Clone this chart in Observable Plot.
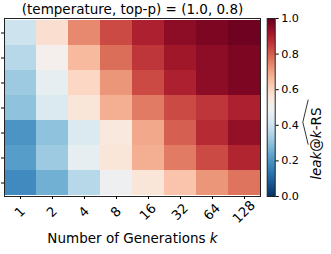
<!DOCTYPE html>
<html><head><meta charset="utf-8">
<script src="https://cdn.jsdelivr.net/npm/d3@7"></script>
<script src="https://cdn.jsdelivr.net/npm/@observablehq/plot@0.6"></script>
<style>
html,body{margin:0;padding:0;background:#fff;}
#chart{position:relative;width:331px;height:254px;font-family:"DejaVu Sans";overflow:hidden;}
#chart svg{position:absolute;top:0;overflow:visible;}
</style></head><body><div id="chart"></div>
<script>
const title = "(temperature, top-p) = (1.0, 0.8)";
const xLabelMain = "Number of Generations ";
const xLabelVar = "k";
const cbLabel = ["leak", "@", "k", "-RS"];
const ks = ["1", "2", "4", "8", "16", "32", "64", "128"];
const rowIds = ["r1", "r2", "r3", "r4", "r5", "r6", "r7"];
const row1 = [0.40, 0.58, 0.74, 0.83, 0.90, 0.95, 0.97, 0.99];
const row2 = [0.36, 0.51, 0.66, 0.78, 0.86, 0.92, 0.95, 0.97];
const row3 = [0.32, 0.46, 0.60, 0.72, 0.83, 0.90, 0.95, 0.97];
const row4 = [0.30, 0.43, 0.56, 0.68, 0.76, 0.83, 0.86, 0.90];
const row5 = [0.20, 0.30, 0.43, 0.55, 0.69, 0.80, 0.88, 0.94];
const row6 = [0.22, 0.32, 0.46, 0.56, 0.68, 0.76, 0.83, 0.89];
const row7 = [0.18, 0.26, 0.36, 0.48, 0.56, 0.64, 0.72, 0.77];
const cbTicks = [0, 0.2, 0.4, 0.6, 0.8, 1.0];

const rows = [row1, row2, row3, row4, row5, row6, row7];
const cells = [];
rows.forEach((r, i) => r.forEach((v, j) => cells.push({row: rowIds[i], k: ks[j], v})));

const color = {type: "linear", scheme: "RdBu", reverse: true, domain: [0, 1]};
const font = {fontFamily: "DejaVu Sans", fontSize: "12px", color: "#000", background: "transparent"};

const main = Plot.plot({
  width: 265, height: 254,
  marginLeft: 4, marginRight: 5, marginTop: 18, marginBottom: 58,
  style: font,
  x: {domain: ks, padding: 0},
  y: {domain: rowIds, padding: 0},
  color,
  marks: [
    Plot.cell(cells, {x: "k", y: "row", fill: "v", inset: 0}),
    Plot.frame({stroke: "#222", strokeWidth: 1}),
    Plot.axisX({tickSize: 3, tickFormat: () => "", label: null}),
    Plot.axisY({tickSize: 3, tickFormat: () => "", label: null}),
    Plot.text(ks, {x: d => d, text: d => d, frameAnchor: "bottom", dy: 15.5, dx: -0.5, rotate: -45, textAnchor: "middle", lineAnchor: "middle", fontSize: 13.2, fill: "#000"}),
    Plot.text([title], {text: d => d, frameAnchor: "top", dy: -8.5, lineAnchor: "middle", fontSize: 13.5, fill: "#000"}),
    Plot.text([xLabelMain], {text: d => d, frameAnchor: "bottom", dy: 41.7, lineAnchor: "middle", fontSize: 13.5, fill: "#000", className: "xlab"})
  ]
});

const gradient = Plot.raster
  ? Plot.raster({x1: 0, x2: 1, y1: 0, y2: 1, width: 1, height: 256, fill: (x, y) => y})
  : Plot.rect(d3.range(0, 1, 0.005), {x1: 0, x2: 1, y1: d => d, y2: d => d + 0.006, fill: d => d + 0.0025});

const cb = Plot.plot({
  width: 69, height: 254,
  marginLeft: 4.7, marginRight: 56.3, marginTop: 18, marginBottom: 58,
  style: font,
  x: {domain: [0, 1], axis: null},
  y: {domain: [0, 1], axis: null},
  color,
  marks: [
    gradient,
    Plot.frame({stroke: "#222", strokeWidth: 1}),
    Plot.axisY({anchor: "right", ticks: cbTicks, tickSize: 3, tickPadding: 3, tickFormat: d3.format(".1f"), fontSize: 11.2, label: null}),
    Plot.text([cbLabel.join("")], {text: d => d, frameAnchor: "right", dx: 41.5, rotate: -90, lineAnchor: "middle", fontSize: 13.5, fill: "#000", className: "cblab"})
  ]
});

const chart = document.getElementById("chart");
main.style.left = "0px";
cb.style.left = "262px";
chart.appendChild(main);
chart.appendChild(cb);

// italic k in x label
const xl = main.querySelector(".xlab text");
if (xl) {
  xl.textContent = "";
  const a = document.createElementNS("http://www.w3.org/2000/svg", "tspan");
  a.textContent = xLabelMain;
  const b = document.createElementNS("http://www.w3.org/2000/svg", "tspan");
  b.textContent = xLabelVar;
  b.setAttribute("font-style", "italic");
  xl.appendChild(a); xl.appendChild(b);
}

// colorbar label with italics and wide hat
const cl = cb.querySelector(".cblab text");
if (cl) {
  cl.textContent = "";
  cbLabel.forEach((s, i) => {
    const t = document.createElementNS("http://www.w3.org/2000/svg", "tspan");
    t.textContent = s;
    if (i === 0 || i === 2) t.setAttribute("font-style", "italic");
    cl.appendChild(t);
  });
  const L = cl.getComputedTextLength();
  const fs = 13.5;
  const base = 0.32 * fs;
  const x0 = -L / 2 - 1, x2 = -L / 2 + 44, xm = (x0 + x2) / 2;
  const yEnd = base - 12.8, yTop = base - 18.2;
  const p = document.createElementNS("http://www.w3.org/2000/svg", "path");
  p.setAttribute("d", `M${x0},${yEnd}L${xm},${yTop}L${x2},${yEnd}`);
  p.setAttribute("fill", "none");
  p.setAttribute("stroke", "#000");
  p.setAttribute("stroke-width", "0.8");
  const tr = cl.getAttribute("transform");
  if (tr) p.setAttribute("transform", tr);
  cl.parentNode.appendChild(p);
}
</script></body></html>
